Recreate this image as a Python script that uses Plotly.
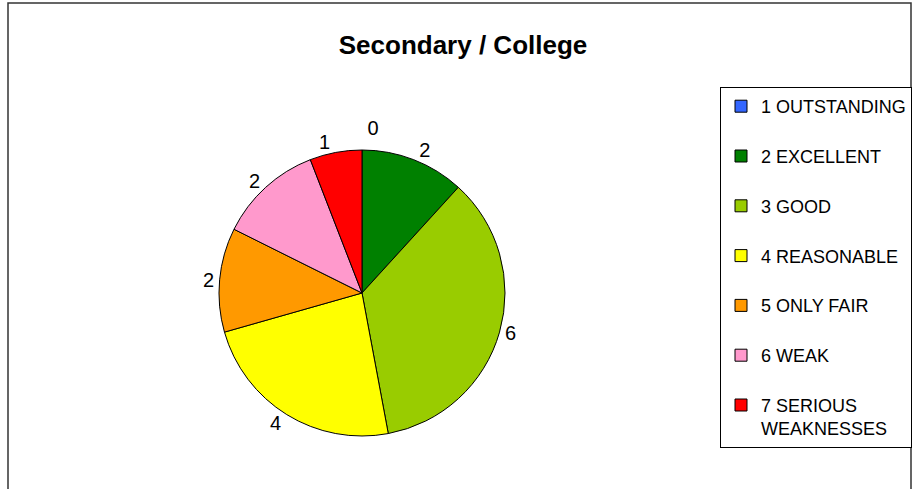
import plotly.graph_objects as go

categories = ["1 OUTSTANDING", "2 EXCELLENT", "3 GOOD", "4 REASONABLE",
              "5 ONLY FAIR", "6 WEAK", "7 SERIOUS<br>WEAKNESSES"]
values = [0, 2, 6, 4, 2, 2, 1]
colors = ["#3366FF", "#008000", "#99CC00", "#FFFF00", "#FF9900", "#FF99CC", "#FF0000"]

# legend labels: pad single-line entries with a blank line for Excel-like spacing
legend_labels = [c if "<br>" in c else c + "<br>&nbsp;" for c in categories]

W, H = 914, 489
cx, cy, r = 362, 293, 143

fig = go.Figure(go.Pie(
    labels=legend_labels,
    values=values,
    sort=False,
    direction="clockwise",
    rotation=0,
    marker=dict(colors=colors, line=dict(color="black", width=1)),
    textinfo="value",
    textposition="outside",
    outsidetextfont=dict(family="Liberation Sans, Arial", size=20, color="black"),
    domain=dict(x=[(cx - r) / W, (cx + r) / W], y=[(H - cy - r) / H, (H - cy + r) / H]),
    showlegend=True,
    automargin=False,
))

fig.update_layout(
    width=W, height=H,
    margin=dict(l=0, r=0, t=0, b=0),
    paper_bgcolor="white",
    plot_bgcolor="white",
    font=dict(family="Liberation Sans, Arial", color="black"),
    title=dict(text="<b>Secondary / College</b>", x=463 / W, xanchor="center",
               y=1 - 45 / H, yanchor="middle",
               font=dict(family="Liberation Sans, Arial", size=26, color="black")),
    legend=dict(x=720 / W, xanchor="left", y=1 - 87 / H, yanchor="top",
                bordercolor="black", borderwidth=1, bgcolor="white",
                valign="top", font=dict(size=18, color="black"),
                traceorder="normal"),
    shapes=[dict(type="rect", xref="paper", yref="paper",
                 x0=8 / W, x1=911 / W, y0=-0.1, y1=1 - 3 / H,
                 line=dict(color="#333333", width=1.5))],
)

post = """
document.body.style.margin = '0px';
document.body.style.overflow = 'hidden';
document.querySelectorAll('.textline').forEach(function(e){ e.style.display = 'none'; });
"""
fig.write_html("out.html", post_script=post, config={"displayModeBar": False})
